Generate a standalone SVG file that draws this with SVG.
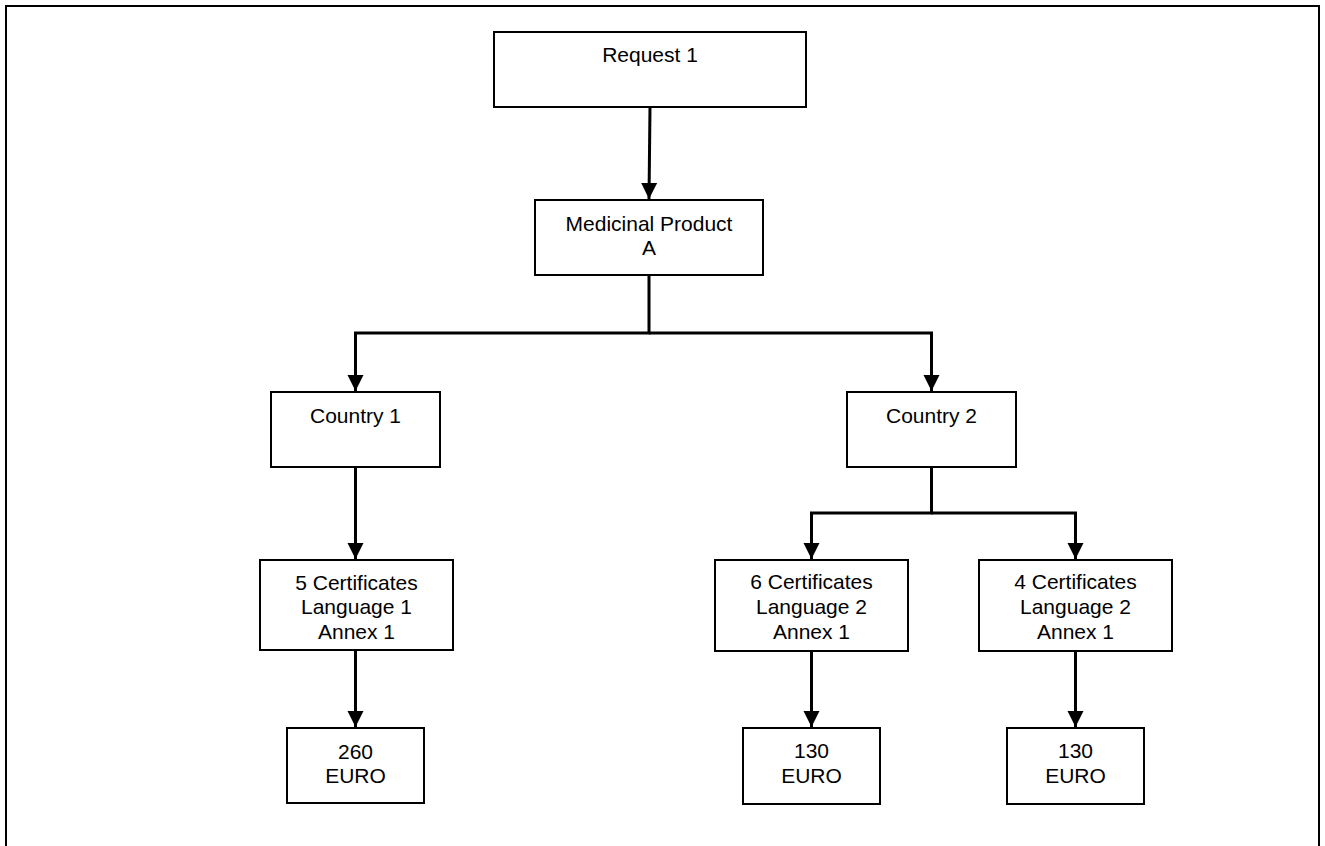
<svg xmlns="http://www.w3.org/2000/svg" width="1325" height="846" viewBox="0 0 1325 846">
  <style>
    .box { fill: #ffffff; stroke: #000000; stroke-width: 2; }
    .lbl { font-family: "Liberation Sans", Arial, sans-serif; font-size: 21px; fill: #000000; text-anchor: middle; }
    .wire { fill: none; stroke: #000000; stroke-width: 3; }
    .frame { fill: none; stroke: #000000; stroke-width: 2; }
  </style>
  <defs>
    <marker id="arrow" markerUnits="userSpaceOnUse" markerWidth="18" markerHeight="18" viewBox="0 0 18 18" refX="16" refY="9" orient="auto">
      <path d="M0,1 L16,9 L0,17 Z" fill="#000000"/>
    </marker>
  </defs>

  <rect width="1325" height="846" fill="#ffffff"/>
  <path class="frame" d="M6,846 V6 H1319 V846"/>

  <g id="connectors">
    <path class="wire" d="M650,107 L649,199" marker-end="url(#arrow)"/>
    <path class="wire" d="M649,275 V333 H355.5 V391" marker-end="url(#arrow)"/>
    <path class="wire" d="M649,333 H931.5 V391" marker-end="url(#arrow)"/>
    <path class="wire" d="M355.5,467 V559" marker-end="url(#arrow)"/>
    <path class="wire" d="M931.5,467 V513 H811.5 V559" marker-end="url(#arrow)"/>
    <path class="wire" d="M931.5,513 H1075.5 V559" marker-end="url(#arrow)"/>
    <path class="wire" d="M355.5,650 V727" marker-end="url(#arrow)"/>
    <path class="wire" d="M811.5,651 V727" marker-end="url(#arrow)"/>
    <path class="wire" d="M1075.5,651 V727" marker-end="url(#arrow)"/>
  </g>

  <g id="request1">
    <rect class="box" x="494" y="32" width="312" height="75"/>
    <text class="lbl" x="650" y="62">Request 1</text>
  </g>

  <g id="product-a">
    <rect class="box" x="535" y="200" width="228" height="75"/>
    <text class="lbl" x="649" y="231">Medicinal Product</text>
    <text class="lbl" x="649" y="255">A</text>
  </g>

  <g id="country1">
    <rect class="box" x="271" y="392" width="169" height="75"/>
    <text class="lbl" x="355.5" y="423">Country 1</text>
  </g>

  <g id="country2">
    <rect class="box" x="847" y="392" width="169" height="75"/>
    <text class="lbl" x="931.5" y="423">Country 2</text>
  </g>

  <g id="cert5">
    <rect class="box" x="260" y="560" width="193" height="90"/>
    <text class="lbl" x="356.5" y="590">5 Certificates</text>
    <text class="lbl" x="356.5" y="614">Language 1</text>
    <text class="lbl" x="356.5" y="639">Annex 1</text>
  </g>

  <g id="cert6">
    <rect class="box" x="715" y="560" width="193" height="91"/>
    <text class="lbl" x="811.5" y="589">6 Certificates</text>
    <text class="lbl" x="811.5" y="614">Language 2</text>
    <text class="lbl" x="811.5" y="639">Annex 1</text>
  </g>

  <g id="cert4">
    <rect class="box" x="979" y="560" width="193" height="91"/>
    <text class="lbl" x="1075.5" y="589">4 Certificates</text>
    <text class="lbl" x="1075.5" y="614">Language 2</text>
    <text class="lbl" x="1075.5" y="639">Annex 1</text>
  </g>

  <g id="fee260">
    <rect class="box" x="287" y="728" width="137" height="75"/>
    <text class="lbl" x="355.5" y="759">260</text>
    <text class="lbl" x="355.5" y="783">EURO</text>
  </g>

  <g id="fee130a">
    <rect class="box" x="743" y="728" width="137" height="76"/>
    <text class="lbl" x="811.5" y="758">130</text>
    <text class="lbl" x="811.5" y="783">EURO</text>
  </g>

  <g id="fee130b">
    <rect class="box" x="1007" y="728" width="137" height="76"/>
    <text class="lbl" x="1075.5" y="758">130</text>
    <text class="lbl" x="1075.5" y="783">EURO</text>
  </g>
</svg>
